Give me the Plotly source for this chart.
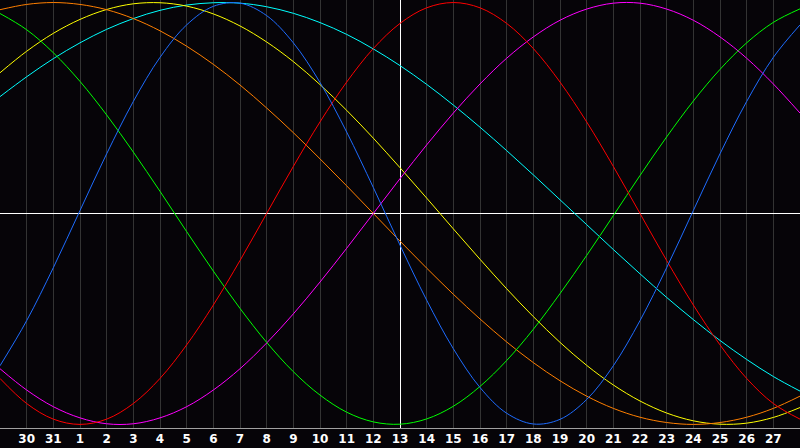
import plotly.graph_objects as go

# days relative to the centre line (day 13)
days = list(range(-15, 16))
tick_pos = list(range(-14, 15))
tick_labels = ['30', '31', '1', '2', '3', '4', '5', '6', '7', '8', '9', '10', '11', '12', '13',
               '14', '15', '16', '17', '18', '19', '20', '21', '22', '23', '24', '25', '26', '27']

# curve values, one per day
red = [-0.782, -0.901, -0.975, -1.0, -0.975, -0.901, -0.782, -0.623, -0.434, -0.223, 0.0,
       0.223, 0.434, 0.623, 0.782, 0.901, 0.975, 1.0, 0.975, 0.901, 0.782, 0.623, 0.434,
       0.223, 0.0, -0.223, -0.434, -0.623, -0.782, -0.901, -0.975]
blue = [-0.722, -0.508, -0.257, 0.014, 0.283, 0.531, 0.740, 0.894, 0.982, 0.997, 0.938,
        0.809, 0.621, 0.386, 0.123, -0.150, -0.411, -0.641, -0.825, -0.947, -0.998, -0.976,
        -0.882, -0.722, -0.508, -0.257, 0.014, 0.283, 0.531, 0.740, 0.894]
green = [0.948, 0.871, 0.762, 0.626, 0.467, 0.291, 0.105, -0.086, -0.273, -0.450, -0.611,
         -0.750, -0.861, -0.942, -0.988, -0.999, -0.974, -0.914, -0.820, -0.697, -0.549,
         -0.380, -0.199, -0.010, 0.180, 0.363, 0.533, 0.683, 0.809, 0.906, 0.970]
magenta = [-0.736, -0.837, -0.916, -0.969, -0.997, -0.997, -0.969, -0.916, -0.837, -0.736,
           -0.614, -0.476, -0.325, -0.165, 0.0, 0.165, 0.325, 0.476, 0.614, 0.736, 0.837,
           0.916, 0.969, 0.997, 0.997, 0.969, 0.916, 0.837, 0.736, 0.614, 0.476]
yellow = [0.667, 0.769, 0.854, 0.920, 0.967, 0.994, 0.999, 0.983, 0.946, 0.889, 0.813,
          0.720, 0.611, 0.489, 0.357, 0.217, 0.073, -0.073, -0.217, -0.357, -0.489, -0.611,
          -0.720, -0.813, -0.889, -0.946, -0.983, -0.999, -0.994, -0.967, -0.920]
orange = [0.966, 0.991, 1.0, 0.991, 0.966, 0.924, 0.866, 0.793, 0.707, 0.609, 0.5, 0.383,
          0.259, 0.131, 0.0, -0.131, -0.259, -0.383, -0.5, -0.609, -0.707, -0.793, -0.866,
          -0.924, -0.966, -0.991, -1.0, -0.991, -0.966, -0.924, -0.866]
cyan = [0.554, 0.648, 0.734, 0.809, 0.873, 0.924, 0.963, 0.988, 0.999, 0.997, 0.980, 0.949,
        0.905, 0.849, 0.780, 0.701, 0.612, 0.514, 0.409, 0.298, 0.183, 0.065, -0.053, -0.171,
        -0.286, -0.398, -0.503, -0.602, -0.692, -0.773, -0.842]

series = [
    (cyan, '#00ffff'),
    (yellow, '#ffff00'),
    (orange, '#ff7f00'),
    (magenta, '#ff00ff'),
    (green, '#00ff00'),
    (red, '#ff0000'),
    (blue, '#1e6cff'),
]

fig = go.Figure()
for vals, col in series:
    fig.add_trace(go.Scatter(x=days, y=vals, mode='lines',
                             line=dict(color=col, width=1, shape='spline'),
                             hoverinfo='skip'))

fig.update_layout(
    width=800, height=448,
    margin=dict(l=0, r=0, t=0, b=20, autoexpand=False),
    paper_bgcolor='#060408',
    plot_bgcolor='#060408',
    showlegend=False,
    xaxis=dict(range=[-15, 15], tickvals=tick_pos, ticktext=tick_labels,
               showgrid=True, gridcolor='#333333', gridwidth=1,
               zeroline=True, zerolinecolor='#ffffff', zerolinewidth=1,
               showline=True, linecolor='#a0a0a0', linewidth=1, mirror=True,
               ticks='', automargin=False,
               tickfont=dict(family='DejaVu Sans', size=12, color='#ffffff', weight='bold'),
               fixedrange=True),
    yaxis=dict(range=[-1.017, 1.012], showgrid=False, showticklabels=False,
               zeroline=True, zerolinecolor='#ffffff', zerolinewidth=1,
               showline=True, linecolor='#909090', linewidth=1, mirror=True,
               ticks='', automargin=False, fixedrange=True),
)

# the page body has a default margin; drop it so the chart sits at the window corner
fig.write_html("out.html", config={'displayModeBar': False},
               post_script="document.body.style.margin='0';document.body.style.background='#060408';")
